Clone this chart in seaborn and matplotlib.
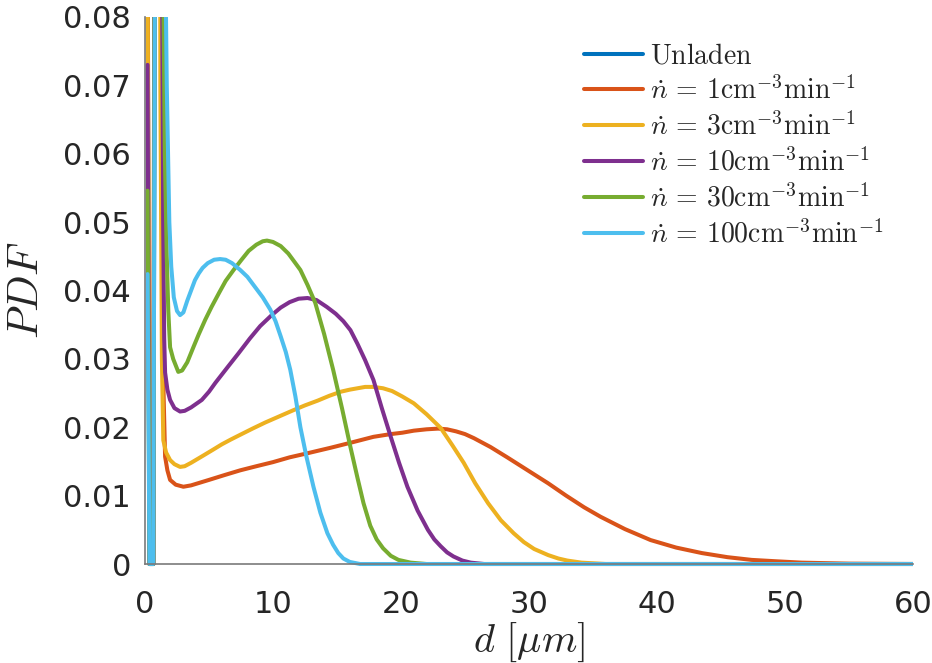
import numpy as np
import pandas as pd
import matplotlib
matplotlib.use("Agg")
import matplotlib.pyplot as plt
import seaborn as sns
from matplotlib.transforms import Bbox, TransformedBbox

# ---------------- data ----------------
series_names = ["Unladen", "n1", "n3", "n10", "n30", "n100"]
legend_labels = [
    r"$\mathrm{Unladen}$",
    r"$\dot{n}\,=\,1\mathrm{cm}^{-3}\mathrm{min}^{-1}$",
    r"$\dot{n}\,=\,3\mathrm{cm}^{-3}\mathrm{min}^{-1}$",
    r"$\dot{n}\,=\,10\mathrm{cm}^{-3}\mathrm{min}^{-1}$",
    r"$\dot{n}\,=\,30\mathrm{cm}^{-3}\mathrm{min}^{-1}$",
    r"$\dot{n}\,=\,100\mathrm{cm}^{-3}\mathrm{min}^{-1}$",
]
colors = ["#0072BD", "#D95319", "#EDB120", "#7E2F8E", "#77AC30", "#4DBEEE"]

d_unladen = [0.2, 0.35, 0.65, 1.0]
pdf_unladen = [0.09, 0, 0, 0.25]

d_n1 = [0.2, 0.35, 0.65, 1.0, 1.3, 1.45, 1.57, 1.75, 1.96, 2.4, 3.0, 3.6, 4.3, 5.0, 6.2,
        7.44, 8.7, 10.0, 11.3, 12.7, 14.5, 16.2, 17.85, 19.2, 20.1, 21.0, 22.0, 22.9,
        23.6, 24.3, 25.0, 25.7, 27.0, 28.3, 29.9, 31.5, 32.9, 34.3, 35.6, 37.5, 39.5,
        41.5, 43.5, 45.5, 47.4, 49.3, 51.3, 55, 60]
pdf_n1 = [0.10, 0, 0, 0.45, 0.06, 0.025, 0.0157, 0.0137, 0.0123, 0.0116, 0.0113, 0.0115,
          0.0119, 0.0123, 0.0130, 0.0137, 0.0143, 0.0149, 0.0156, 0.0162, 0.0170, 0.0178,
          0.0186, 0.0190, 0.0192, 0.0195, 0.0197, 0.0198, 0.0197, 0.0194, 0.0190, 0.0184,
          0.0171, 0.0156, 0.0137, 0.0118, 0.0100, 0.0083, 0.0069, 0.0051, 0.0035, 0.0024,
          0.0016, 0.0010, 0.0006, 0.0004, 0.0002, 0.00005, 0]

d_n3 = [0.2, 0.35, 0.65, 1.0, 1.2, 1.32, 1.43, 1.65, 1.96, 2.3, 2.74, 3.1, 3.6, 4.5, 5.3,
        6.0, 6.7, 7.44, 8.4, 9.4, 10.5, 11.6, 12.5, 13.5, 14.4, 15.3, 16.0, 16.6, 17.2,
        17.85, 18.6, 19.3, 20.1, 21.0, 22.0, 23.1, 24.0, 24.9, 25.8, 26.8, 27.8, 28.8,
        29.6, 30.4, 31.5, 32.3, 33.0, 34.1, 36, 60]
pdf_n3 = [0.09, 0, 0, 0.40, 0.07, 0.03, 0.0181, 0.0163, 0.0152, 0.0146, 0.0142, 0.0143,
          0.0148, 0.0158, 0.0167, 0.0175, 0.0182, 0.0189, 0.0198, 0.0207, 0.0216, 0.0225,
          0.0232, 0.0239, 0.0246, 0.0252, 0.0255, 0.0257, 0.0259, 0.0259, 0.0257, 0.0253,
          0.0245, 0.0235, 0.0219, 0.0199, 0.0174, 0.0148, 0.0118, 0.0089, 0.0064, 0.0045,
          0.0032, 0.0022, 0.0013, 0.0008, 0.0005, 0.0002, 0, 0]

d_n10 = [0.2, 0.35, 0.65, 1.0, 1.3, 1.42, 1.5, 1.57, 1.75, 1.96, 2.3, 2.74, 3.1, 3.6,
         4.44, 5.0, 5.5, 6.0, 6.5, 7.3, 8.2, 9.0, 9.9, 10.6, 11.3, 12.0, 12.7, 13.4, 14.2,
         14.9, 15.5, 16.05, 16.6, 17.2, 17.85, 18.5, 19.2, 19.85, 20.5, 21.3, 22.1, 22.6,
         23.1, 23.6, 24.1, 24.8, 25.45, 26.5, 60]
pdf_n10 = [0.073, 0, 0, 0.35, 0.10, 0.05, 0.033, 0.028, 0.0255, 0.0240, 0.0228, 0.0223,
           0.0224, 0.0229, 0.0240, 0.0252, 0.0265, 0.0277, 0.0289, 0.0308, 0.0330, 0.0348,
           0.0364, 0.0375, 0.0383, 0.0388, 0.0389, 0.0386, 0.0376, 0.0366, 0.0355, 0.0342,
           0.0322, 0.0298, 0.0269, 0.0228, 0.0186, 0.0148, 0.0113, 0.0078, 0.0050, 0.0036,
           0.0026, 0.0017, 0.0011, 0.0005, 0.0002, 0, 0]

d_n30 = [0.2, 0.35, 0.65, 1.0, 1.35, 1.55, 1.7, 1.82, 1.96, 2.2, 2.6, 2.9, 3.3, 3.8, 4.2,
         4.7, 5.2, 5.8, 6.3, 6.92, 7.5, 8.1, 8.7, 9.2, 9.53, 10.0, 10.6, 11.2, 11.75, 12.14,
         12.7, 13.3, 14.0, 14.7, 15.4, 16.05, 16.6, 17.07, 17.6, 18.1, 18.6, 19.2, 19.8,
         20.75, 22, 60]
pdf_n30 = [0.0546, 0, 0, 0.30, 0.10, 0.06, 0.045, 0.037, 0.0317, 0.0300, 0.0281, 0.0283,
           0.0295, 0.0318, 0.0336, 0.0357, 0.0376, 0.0397, 0.0414, 0.0430, 0.0444, 0.0458,
           0.0467, 0.0472, 0.0473, 0.0471, 0.0465, 0.0454, 0.0440, 0.0430, 0.0408, 0.0382,
           0.0336, 0.0284, 0.0227, 0.0171, 0.0126, 0.0089, 0.0056, 0.0036, 0.0023, 0.0012,
           0.0006, 0.0002, 0, 0]

d_n100 = [0.2, 0.35, 0.65, 1.0, 1.4, 1.7, 1.9, 2.05, 2.25, 2.5, 2.74, 3.0, 3.3, 3.6, 3.9,
          4.2, 4.5, 4.9, 5.4, 5.87, 6.3, 6.8, 7.44, 8.0, 8.6, 9.2, 9.79, 10.2, 10.6, 11.0,
          11.35, 11.75, 12.14, 12.6, 13.16, 13.7, 14.25, 14.7, 15.1, 15.5, 16.0, 16.8, 20,
          60]
pdf_n100 = [0.0424, 0, 0, 0.25, 0.12, 0.07, 0.05, 0.0435, 0.0390, 0.0370, 0.0364, 0.0368,
            0.0385, 0.0400, 0.0415, 0.0425, 0.0433, 0.0440, 0.0445, 0.0446, 0.0445, 0.0440,
            0.0430, 0.0420, 0.0405, 0.0390, 0.0372, 0.0355, 0.0333, 0.0310, 0.0284, 0.0245,
            0.0200, 0.0158, 0.0113, 0.0075, 0.0045, 0.0028, 0.0016, 0.0008, 0.0003, 0, 0, 0]

x_ticks = [0, 10, 20, 30, 40, 50, 60]
y_ticks = [0, 0.01, 0.02, 0.03, 0.04, 0.05, 0.06, 0.07, 0.08]
y_tick_labels = ["0", "0.01", "0.02", "0.03", "0.04", "0.05", "0.06", "0.07", "0.08"]

# ---------------- build long-form table ----------------
all_d = [d_unladen, d_n1, d_n3, d_n10, d_n30, d_n100]
all_p = [pdf_unladen, pdf_n1, pdf_n3, pdf_n10, pdf_n30, pdf_n100]
frames = []
for name, dd, pp in zip(series_names, all_d, all_p):
    frames.append(pd.DataFrame({"d": dd, "pdf": pp, "series": name}))
df = pd.concat(frames, ignore_index=True)

# ---------------- style ----------------
sns.set_style("white")
plt.rcParams["font.family"] = ["DejaVu Sans"]
plt.rcParams["mathtext.fontset"] = "cm"

fig = plt.figure(figsize=(9.32, 6.63), dpi=100)
ax = fig.add_axes([145 / 932, 1 - 564 / 663, (913 - 145) / 932, (564 - 17) / 663])

sns.lineplot(data=df, x="d", y="pdf", hue="series", hue_order=series_names,
             palette=colors, sort=False, estimator=None, linewidth=2.9, ax=ax,
             legend=True)

ax.set_xlim(0, 60)
ax.set_ylim(0, 0.08)

# allow lines lying on y=0 to show fully (MATLAB-like clipping)
clip = TransformedBbox(Bbox([[0, -0.02], [1, 1]]), ax.transAxes)
for ln in ax.lines:
    ln.set_clip_box(clip)
    ln.set_solid_joinstyle("round")

ax.set_xticks(x_ticks)
ax.set_xticklabels([str(t) for t in x_ticks])
ax.set_yticks(y_ticks)
ax.set_yticklabels(y_tick_labels)

axis_col = "#7a7a7a"
text_col = "#262626"
for side in ["top", "right"]:
    ax.spines[side].set_visible(False)
for side in ["left", "bottom"]:
    ax.spines[side].set_color(axis_col)
    ax.spines[side].set_linewidth(1.2)
ax.tick_params(axis="both", direction="in", length=5, width=1.0, color=axis_col,
               labelcolor=text_col, labelsize=22)
ax.tick_params(axis="x", pad=19)
ax.tick_params(axis="y", pad=10)

ax.set_xlabel(r"$d\ [\mu m]$", fontsize=29, color=text_col, labelpad=1)
ax.set_ylabel(r"$PDF$", fontsize=31, color=text_col, labelpad=12)

handles, _ = ax.get_legend_handles_labels()
handles = [h for h in handles][:len(series_names)]
leg = ax.legend(handles, legend_labels, loc="upper left",
                bbox_to_anchor=(0.557, 0.976), frameon=False, fontsize=20,
                handlelength=2.12, handletextpad=0.25, labelspacing=0.26,
                borderaxespad=0.0)
for h in leg.get_lines():
    h.set_linewidth(2.9)
for t in leg.get_texts():
    t.set_color(text_col)

fig.savefig("out.png", dpi=100)
